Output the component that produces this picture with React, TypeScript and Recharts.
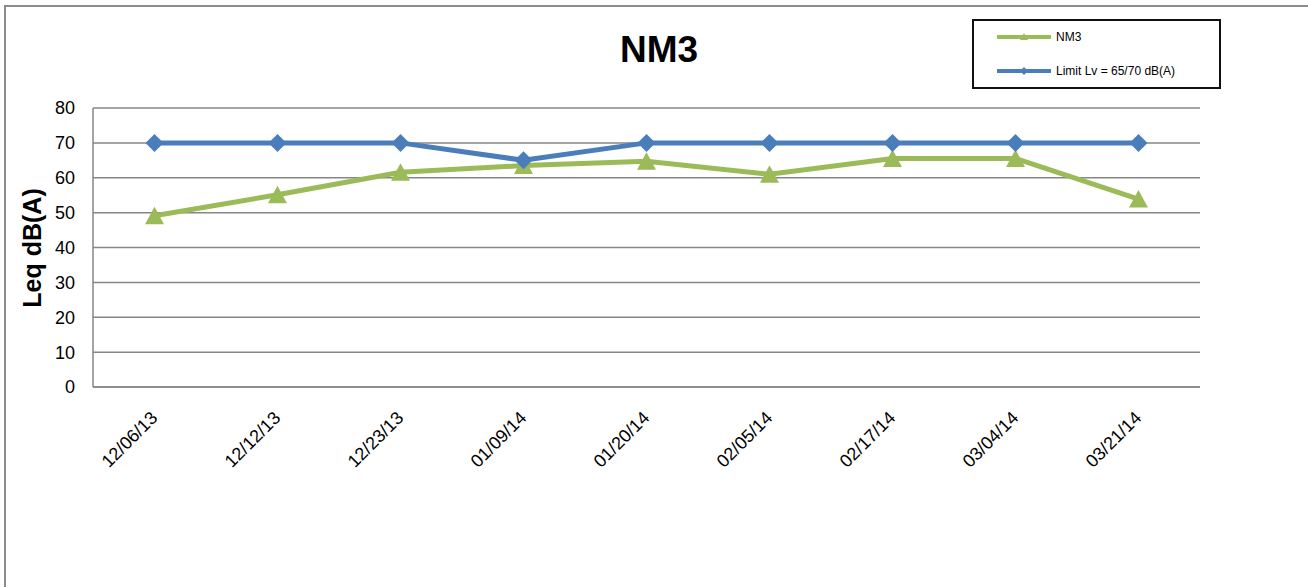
import React from 'react';
import { LineChart, Line, XAxis, YAxis, CartesianGrid } from 'recharts';

const categories = ['12/06/13', '12/12/13', '12/23/13', '01/09/14', '01/20/14', '02/05/14', '02/17/14', '03/04/14', '03/21/14'];
const nm3Values = [49.1, 55.1, 61.6, 63.5, 64.7, 61.0, 65.5, 65.5, 53.9];
const limitValues = [70, 70, 70, 65, 70, 70, 70, 70, 70];
const yTicks = [0, 10, 20, 30, 40, 50, 60, 70, 80];
const seriesNames = ['NM3', 'Limit Lv = 65/70 dB(A)'];
const chartTitle = 'NM3';
const yAxisTitle = 'Leq dB(A)';

const GREEN = '#9BBB59';
const BLUE = '#4A7EBB';
const GRID = '#868686';
const FONT = '"Liberation Sans", Arial, sans-serif';

const data = categories.map((c, i) => ({ date: c, nm3: nm3Values[i], limit: limitValues[i] }));

const Triangle = (props: any) => {
  const { cx, cy } = props;
  if (cx == null || cy == null) return null;
  return <polygon points={`${cx},${cy - 9} ${cx + 9.5},${cy + 8.5} ${cx - 9.5},${cy + 8.5}`} fill={GREEN} />;
};

const Diamond = (props: any) => {
  const { cx, cy } = props;
  if (cx == null || cy == null) return null;
  return <polygon points={`${cx},${cy - 9} ${cx + 9},${cy} ${cx},${cy + 9} ${cx - 9},${cy}`} fill={BLUE} />;
};

const XTick = (props: any) => {
  const { x, y, payload } = props;
  const tx = x + 4;
  const ty = y + 32;
  return (
    <text x={tx} y={ty} transform={`rotate(-45, ${tx}, ${ty})`} textAnchor="end" fontSize={18} fontFamily={FONT} fill="#000">
      {payload.value}
    </text>
  );
};

const YTick = (props: any) => {
  const { y, payload } = props;
  return (
    <text x={75} y={y} dy="0.36em" textAnchor="end" fontSize={18} fontFamily={FONT} fill="#000">
      {payload.value}
    </text>
  );
};

const LegendBox = () => (
  <div style={{ position: 'absolute', left: 972, top: 19, width: 249, height: 70, boxSizing: 'border-box', border: '2px solid #111', background: '#fff' }}>
    <svg width={245} height={66} style={{ display: 'block' }}>
      <line x1={23} x2={77} y1={16} y2={16} stroke={GREEN} strokeWidth={4} />
      <polygon points={`50,12 54,19 46,19`} fill={GREEN} />
      <text x={82} y={20.3} fontSize={12} fontFamily={FONT} fill="#000">{seriesNames[0]}</text>
      <line x1={23} x2={77} y1={50} y2={50} stroke={BLUE} strokeWidth={4} />
      <polygon points={`50,46 54,50 50,54 46,50`} fill={BLUE} />
      <text x={82} y={54.3} fontSize={12} fontFamily={FONT} fill="#000">{seriesNames[1]}</text>
    </svg>
  </div>
);

export default function App() {
  return (
    <div style={{ position: 'fixed', left: 0, top: 0, width: 1308, height: 587, overflow: 'hidden', background: '#fff' }}>
      <div style={{ position: 'absolute', left: 4, top: 5, width: 1330, height: 620, border: '2px solid #8c8c8c', boxSizing: 'border-box' }} />
      <div style={{ position: 'absolute', left: 0, top: 0 }}>
        <LineChart width={1308} height={587} data={data} margin={{ top: 108, right: 108, bottom: 100, left: 0 }}>
          <CartesianGrid horizontal={true} vertical={false} stroke={GRID} strokeWidth={1.5} />
          <XAxis
            dataKey="date"
            scale="band"
            height={100}
            tickLine={false}
            tickSize={0}
            tickMargin={0}
            axisLine={{ stroke: GRID, strokeWidth: 1.5 }}
            tick={<XTick />}
            interval={0}
          />
          <YAxis
            width={93}
            domain={[0, 80]}
            ticks={yTicks}
            tickLine={false}
            axisLine={{ stroke: GRID, strokeWidth: 1.5 }}
            tick={<YTick />}
            interval={0}
          />
          <Line
            dataKey="nm3"
            name={seriesNames[0]}
            stroke={GREEN}
            strokeWidth={5}
            dot={<Triangle />}
            activeDot={false}
            isAnimationActive={false}
          />
          <Line
            dataKey="limit"
            name={seriesNames[1]}
            stroke={BLUE}
            strokeWidth={5}
            dot={<Diamond />}
            activeDot={false}
            isAnimationActive={false}
          />
        </LineChart>
      </div>
      <LegendBox />
      <svg width={1308} height={587} style={{ position: 'absolute', left: 0, top: 0, pointerEvents: 'none' }}>
        <text x={659} y={62} textAnchor="middle" fontSize={37} fontWeight="bold" fontFamily={FONT} fill="#000">{chartTitle}</text>
        <text x={0} y={0} transform="translate(41, 248) rotate(-90)" textAnchor="middle" fontSize={25} fontWeight="bold" fontFamily={FONT} fill="#000">{yAxisTitle}</text>
      </svg>
    </div>
  );
}
